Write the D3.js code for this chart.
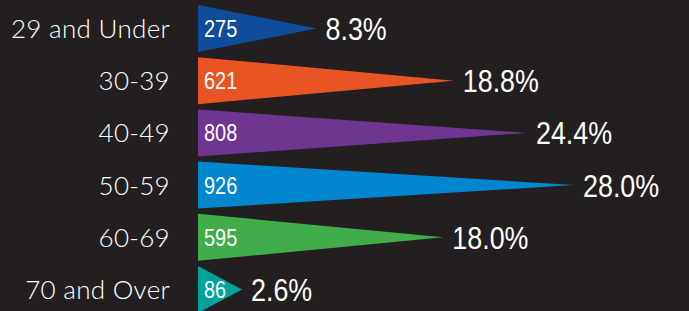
<!DOCTYPE html>
<html>
<head>
<meta charset="utf-8">
<script src="https://cdn.jsdelivr.net/npm/d3@7"></script>
<style>
  html, body { margin: 0; padding: 0; background: #231f20; }
  svg { display: block; }
</style>
</head>
<body>
<svg width="689" height="311"></svg>
<script>
const ageGroups = ['29 and Under', '30-39', '40-49', '50-59', '60-69', '70 and Over'];
const counts = [275, 621, 808, 926, 595, 86];
const percents = [8.3, 18.8, 24.4, 28.0, 18.0, 2.6];
const colors = ['#0f4c9c', '#e95424', '#6e3591', '#0087cf', '#40ad4a', '#00a39c'];

const rows = ageGroups.map((g, i) => ({group: g, count: counts[i], pct: percents[i], color: colors[i]}));

const svg = d3.select('svg');
const x0 = 198; // left edge of the pennants

const y = d3.scaleBand()
  .domain(ageGroups)
  .range([2.4, 315.6])
  .paddingInner(0.1)
  .paddingOuter(0.05);

const x = d3.scaleLinear()
  .domain([0, 28])
  .range([x0 + 10, x0 + 376]);

const fmt = d3.format('.1f');

// pennant shaped bars
svg.selectAll('.bar')
  .data(rows)
  .enter().append('path')
    .attr('class', 'bar')
    .attr('fill', d => d.color)
    .attr('d', d => {
      const top = y(d.group);
      const bot = top + y.bandwidth();
      const mid = top + y.bandwidth() / 2;
      return `M${x0},${top}L${x(d.pct)},${mid}L${x0},${bot}Z`;
    });

// category labels on the left
svg.selectAll('.cat')
  .data(rows)
  .enter().append('text')
    .attr('class', 'cat')
    .attr('x', 170)
    .attr('y', d => y(d.group) + y.bandwidth() / 2 + 9.5)
    .attr('text-anchor', 'end')
    .attr('fill', '#fff')
    .style('font-family', 'Lato, sans-serif')
    .style('font-weight', 300)
    .style('letter-spacing', '0.3px')
    .style('font-size', '26px')
    .text(d => d.group);

// counts inside the bars
svg.selectAll('.count')
  .data(rows)
  .enter().append('text')
    .attr('class', 'count')
    .attr('transform', d => `translate(${x0 + 6},${y(d.group) + y.bandwidth() / 2 + 8.5}) scale(0.83,1)`)
    .attr('fill', '#fff')
    .style('font-family', '"Liberation Sans", Arial, sans-serif')
    .style('font-size', '24px')
    .text(d => d.count);

// percentages after the tips
svg.selectAll('.pct')
  .data(rows)
  .enter().append('text')
    .attr('class', 'pct')
    .attr('transform', d => `translate(${x(d.pct) + 9},${y(d.group) + y.bandwidth() / 2 + 11.5}) scale(0.84,1)`)
    .attr('fill', '#fff')
    .style('font-family', '"Liberation Sans", Arial, sans-serif')
    .style('font-size', '32px')
    .text(d => fmt(d.pct) + '%');
</script>
</body>
</html>
